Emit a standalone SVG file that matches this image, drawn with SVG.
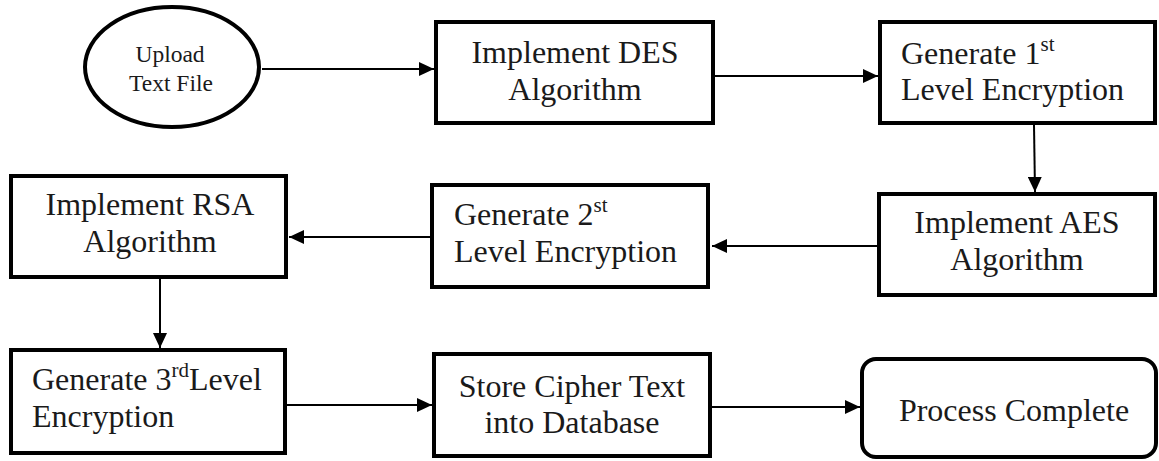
<svg xmlns="http://www.w3.org/2000/svg" width="1159" height="461" viewBox="0 0 1159 461">
<style>
.box{fill:#fff;stroke:#000;stroke-width:4}
.t{font-family:"Liberation Serif","Times New Roman",serif;font-size:32px;fill:#1a1a1a}
.c{text-anchor:middle}
.s{font-size:21px}
.sm{font-family:"Liberation Serif","Times New Roman",serif;font-size:23.5px;fill:#1a1a1a;text-anchor:middle}
.conn{stroke:#000;stroke-width:2;fill:none;marker-end:url(#ah)}
</style>
<defs>
<marker id="ah" markerUnits="userSpaceOnUse" markerWidth="15" markerHeight="14" refX="15" refY="7" orient="auto">
<path d="M0,0 L15,7 L0,14 z" fill="#000"/>
</marker>
</defs>
<rect width="1159" height="461" fill="#fff"/>
<g id="connectors">
<path class="conn" d="M262,69 H434"/>
<path class="conn" d="M710,76 H878"/>
<path class="conn" d="M1034,125 L1035,192"/>
<path class="conn" d="M877,246 H712"/>
<path class="conn" d="M432,237 H289"/>
<path class="conn" d="M160,279 V348"/>
<path class="conn" d="M287,405 H432"/>
<path class="conn" d="M712,407 H860"/>
</g>
<g id="upload">
<ellipse class="box" cx="172" cy="67" rx="87" ry="60"/>
<text class="sm" x="170" y="62">Upload</text>
<text class="sm" x="171" y="91">Text File</text>
</g>
<g id="des">
<rect class="box" x="436" y="22" width="277" height="101"/>
<text class="t c" x="575" y="63">Implement DES</text>
<text class="t c" x="575" y="100">Algorithm</text>
</g>
<g id="gen1">
<rect class="box" x="880" y="22" width="275" height="101"/>
<text class="t" x="901" y="64">Generate 1<tspan class="s" dy="-13">st</tspan></text>
<text class="t" x="901" y="100">Level Encryption</text>
</g>
<g id="aes">
<rect class="box" x="879" y="194" width="276" height="101"/>
<text class="t c" x="1017" y="233">Implement AES</text>
<text class="t c" x="1017" y="270">Algorithm</text>
</g>
<g id="gen2">
<rect class="box" x="432" y="185" width="276" height="102"/>
<text class="t" x="454" y="225">Generate 2<tspan class="s" dy="-13">st</tspan></text>
<text class="t" x="454" y="262">Level Encryption</text>
</g>
<g id="rsa">
<rect class="box" x="11" y="176" width="275" height="101"/>
<text class="t c" x="150" y="215">Implement RSA</text>
<text class="t c" x="150" y="252">Algorithm</text>
</g>
<g id="gen3">
<rect class="box" x="11" y="350" width="274" height="103"/>
<text class="t" x="32" y="390">Generate 3<tspan class="s" dy="-13">rd</tspan><tspan dy="13">Level</tspan></text>
<text class="t" x="32" y="427">Encryption</text>
</g>
<g id="store">
<rect class="box" x="434" y="354" width="276" height="102"/>
<text class="t c" x="572" y="397">Store Cipher Text</text>
<text class="t c" x="572" y="433">into Database</text>
</g>
<g id="process">
<rect class="box" x="862" y="359" width="294" height="98" rx="14"/>
<text class="t c" x="1014" y="421">Process Complete</text>
</g>
</svg>
